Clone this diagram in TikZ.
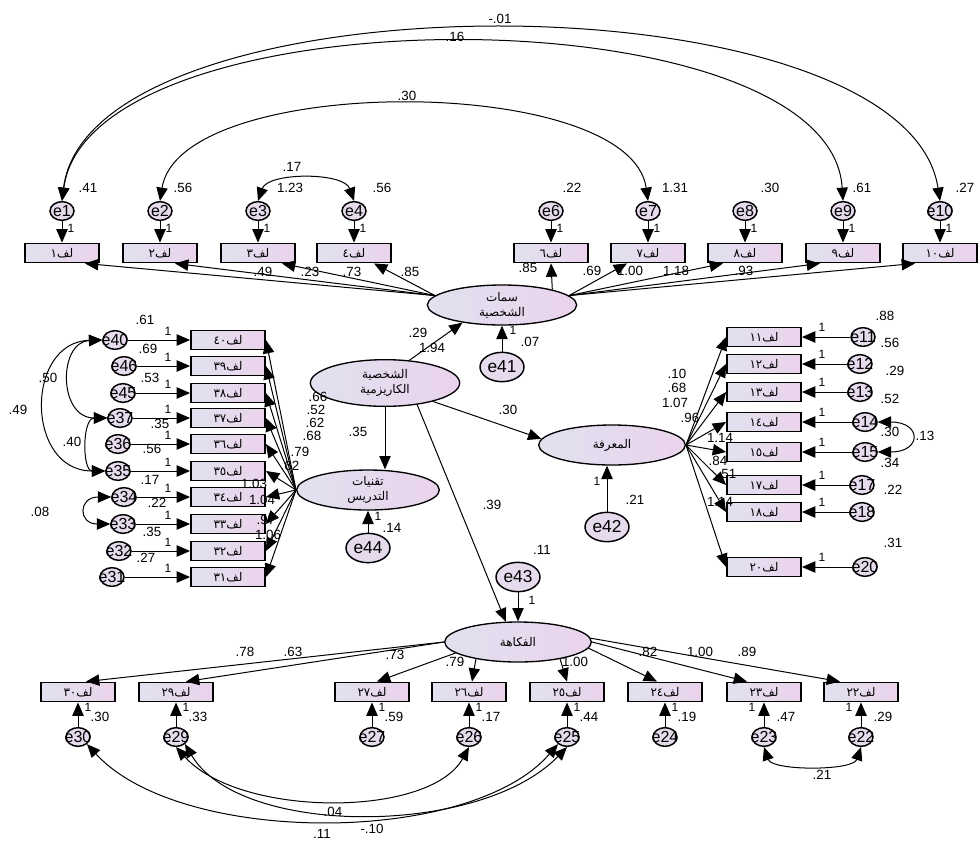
\documentclass[tikz,border=0pt]{standalone}
\usepackage{fontspec}
\setmainfont{Liberation Sans}
\newfontfamily\arabicfont[Script=Arabic]{DejaVu Sans}
\TeXXeTstate=1
\usetikzlibrary{arrows.meta,shapes.geometric,calc}
\definecolor{fillL}{HTML}{E1E1EF}
\definecolor{fillR}{HTML}{EAD3EC}
\newcommand\lfbox[1]{\beginR لف\beginL #1\endL\endR}
\newcommand\arl[1]{\beginR #1\endR}
\tikzset{
 tip/.tip={Triangle[length=10pt,width=8.5pt]},
 arr/.style={-tip, line width=0.75pt},
 darr/.style={tip-tip, line width=0.75pt},
 ind/.style={rectangle, draw, line width=1.4pt, left color=fillL, right color=fillR, minimum width=55.5pt, minimum height=14.25pt, inner sep=0pt, font=\arabicfont\fontsize{9}{9}\selectfont},
 lat/.style={ellipse, draw, line width=1pt, left color=fillL, right color=fillR, minimum width=112pt, minimum height=30pt, inner sep=0pt, align=center, font=\arabicfont\fontsize{9}{11}\selectfont},
 err/.style={ellipse, draw, line width=1.1pt, fill=fillR!50!fillL, minimum width=18pt, minimum height=14pt, inner sep=0pt, font=\fontsize{12}{12}\selectfont},
 errb/.style={ellipse, draw, line width=1.1pt, fill=fillR!50!fillL, minimum width=33pt, minimum height=22pt, inner sep=0pt, font=\fontsize{13}{13}\selectfont},
 num/.style={font=\fontsize{10}{10}\selectfont, inner sep=0pt},
 one/.style={font=\fontsize{9}{9}\selectfont, inner sep=0pt},
}
\begin{document}
\begin{tikzpicture}[x=0.75pt,y=-0.75pt]
\useasboundingbox (0,0) rectangle (978,843);
\fill[white] (0,0) rectangle (978,843);

% ---------- latent variables ----------
\node[lat] (sp) at (502,305) {\arl{سمات}\\\arl{الشخصية}};
\node[lat, minimum height=35pt] (char) at (385,383) {\arl{الشخصية}\\\arl{الكاريزمية}};
\node[lat, minimum width=107pt] (tech) at (368,490) {\arl{تقنيات}\\\arl{التدريس}};
\node[lat, minimum width=110pt] (know) at (612,445) {\arl{المعرفة}};
\node[lat, minimum width=110pt] (humor) at (518,642) {\arl{الفكاهة}};

\node[errb] (e41) at (502,367) {e41};
\node[errb] (e42) at (607,527) {e42};
\node[errb] (e43) at (518,577) {e43};
\node[errb] (e44) at (368,548) {e44};

% ---------- top row ----------
\foreach \n/\x/\t in {1/62/١,2/160/٢,3/258/٣,4/354/٤,6/551/٦,7/648/٧,8/745/٨,9/843/٩,10/940/١٠}{
  \node[ind] (b\n) at (\x,253) {\lfbox{\t}};
  \node[err] (e\n) at (\x,211) {\makebox[0pt]{e\n}};
  \draw[arr] (e\n.south) -- (b\n.north);
  \node[one] (o\n) at ($(e\n)+(9,17)$) {1};
}
\foreach \x/\t [count=\i] in {88/.41,183/.56,290/1.23,382/.56,572/.22,675/1.31,770/.30,862/.61,965/.27}
  \node[num] (tv\i) at (\x,188) {\t};

% top covariances
\draw[darr] (e1.north) .. controls (90,-28) and (905,-28) .. (e10.north);
\draw[darr] (e1.north) .. controls (90,-10) and (830,-10) .. (e9.north);
\draw[darr] (e2.north) .. controls (180,73) and (630,73) .. (e7.north);
\draw[darr] (e3.north) .. controls (268,172) and (344,172) .. (e4.north);
\node[num] (c1) at (500,19) {-.01};
\node[num] (c2) at (455,37) {.16};
\node[num] (c3) at (407,96) {.30};
\node[num] (c4) at (292,167) {.17};

% loadings of sp
\draw[arr] (sp.172) -- ($(b1.south)+(23,0)$);
\draw[arr] (sp.172) -- ($(b2.south)+(15,0)$);
\draw[arr] (sp.172) -- ($(b3.south)+(24,0)$);
\draw[arr] (sp.172) -- ($(b4.south)+(20,0)$);
\draw[arr] (sp.17) -- (b6.south);
\draw[arr] (sp.8) -- ($(b7.south)+(-21,0)$);
\draw[arr] (sp.8) -- ($(b8.south)+(-22,0)$);
\draw[arr] (sp.8) -- ($(b9.south)+(-23,0)$);
\draw[arr] (sp.8) -- ($(b10.south)+(-25,0)$);
\foreach \x/\y/\t [count=\i] in {263/272/.49,310/272/.23,352/272/.73,410/272/.85,528/268/.85,592/271/.69,630/271/1.00,676/271/1.18,744/271/.93}
  \node[num] (tl\i) at (\x,\y) {\t};

% ---------- structural paths ----------
\draw[arr] (char.43) -- (sp.204);
\draw[arr] (e41.north) -- (sp.south);
\draw[arr] (char.south) -- (char.south |- tech.north);
\draw[arr] (char.-21) -- (know.175);
\draw[arr] (char.-34) -- (humor.121);
\draw[arr] (e42.north) -- (e42.north |- know.south);
\draw[arr] (e43.south) -- (humor.north);
\draw[arr] (e44.north) -- (tech.south);
\foreach \x/\y/\t [count=\i] in {418/333/.29,432/348/1.94,358/432/.35,508/410/.30,492/505/.39,635/500/.21,392/528/.14,530/342/.07,542/550/.11}
  \node[num] (ts\i) at (\x,\y) {\t};
\foreach \x/\y [count=\i] in {513/330,597/481,378/516,532/600}
  \node[one] (so\i) at (\x,\y) {1};

% ---------- left cluster ----------
\foreach \n/\y/\ex/\en/\t in {40/340/115/40/٤٠,39/366/124/46/٣٩,38/393/123/45/٣٨,37/418/120/37/٣٧,36/444/118/36/٣٦,35/471/118/35/٣٥,34/497/124/34/٣٤,33/524/123/33/٣٣,32/551/119/32/٣٢,31/577/112/31/٣١}{
  \node[ind] (L\n) at (228,\y) {\lfbox{\t}};
  \node[err] (eL\n) at (\ex,\y) {\makebox[0pt]{e\en}};
  \draw[arr] (eL\n.east) -- (L\n.west);
  \node[one] (oL\n) at ($(L\n.west)+(-22,-9)$) {1};
  \draw[arr] (tech.west) -- (L\n.east);
}
\draw[darr] (eL40.west) .. controls (58,342) and (58,418) .. (eL37.west);
\draw[darr] (eL40.west) .. controls (25,342) and (25,471) .. (eL35.west);
\draw[darr] (eL37.west) .. controls (82,418) and (82,471) .. (eL35.west);
\draw[darr] (eL34.west) .. controls (78,497) and (78,524) .. (eL33.west);
\foreach \x/\y/\t [count=\i] in {48/378/.50,18/410/.49,72/442/.40,40/512/.08,
  145/320/.61,148/349/.69,150/378/.53,160/424/.35,152/449/.56,150/480/.17,157/503/.22,152/532/.35,146/558/.27,
  318/397/.66,316/410/.52,315/423/.62,312/436/.68,300/452/.79,290/466/.62,254/484/1.03,262/500/1.04,266/520/.97,268/535/1.06}
  \node[num] (tL\i) at (\x,\y) {\t};

% ---------- right cluster ----------
\foreach \n/\y/\ex/\t in {11/337/863/١١,12/364/860/١٢,13/392/860/١٣,14/422/865/١٤,15/452/865/١٥,17/485/862/١٧,18/512/862/١٨,20/567/865/٢٠}{
  \node[ind] (R\n) at (764,\y) {\lfbox{\t}};
  \node[err] (eR\n) at (\ex,\y) {\makebox[0pt]{e\n}};
  \draw[arr] (eR\n.west) -- (R\n.east);
  \node[one] (oR\n) at ($(R\n.east)+(20,-10)$) {1};
  \draw[arr] (know.east) -- (R\n.west);
}
\draw[darr] (eR14.east) .. controls (922,422) and (922,452) .. (eR15.east);
\foreach \x/\y/\t [count=\i] in {885/316/.88,890/343/.56,895/371/.29,890/399/.52,890/432/.30,890/463/.34,893/490/.22,893/543/.31,925/436/.13,
  677/374/.10,677/388/.68,675/403/1.07,690/418/.96,720/438/1.14,718/461/.84,727/474/.51,720/502/1.14}
  \node[num] (tR\i) at (\x,\y) {\t};

% ---------- bottom row ----------
\foreach \n/\x/\t in {30/78/٣٠,29/176/٢٩,27/372/٢٧,26/469/٢٦,25/567/٢٥,24/665/٢٤,23/764/٢٣,22/861/٢٢}{
  \node[ind] (B\n) at (\x,692) {\lfbox{\t}};
  \node[err] (eB\n) at (\x,737) {\makebox[0pt]{e\n}};
  \draw[arr] (eB\n.north) -- (B\n.south);
}
\foreach \n/\dx/\vx/\t in {30/10/22/.30,29/10/22/.33,27/10/22/.59,26/10/22/.17,25/10/22/.44,24/10/22/.19,23/-12/22/.47,22/-12/22/.29}{
  \node[one] (oB\n) at ($(B\n.south)+(\dx,5)$) {1};
  \node[num] (vB\n) at ($(B\n.south)+(\vx,14)$) {\t};
}
\draw[arr] (humor.west) -- ($(B30.north)+(8,0)$);
\draw[arr] (humor.west) -- ($(B29.north)+(10,0)$);
\draw[arr] (humor.190) -- ($(B27.north)+(5,0)$);
\draw[arr] (humor.202) -- ($(B26.north)+(3,0)$);
\draw[arr] (humor.-22) -- (B25.north);
\draw[arr] (humor.-5) -- ($(B24.north)+(-8,0)$);
\draw[arr] (humor.0) -- ($(B23.north)+(-17,0)$);
\draw[arr] (humor.3) -- ($(B22.north)+(-21,0)$);
\draw[darr] (eB23.south) .. controls (772,771) and (853,771) .. (eB22.south);
\draw[darr] (eB30.south east) .. controls (180,846) and (470,846) .. (eB25.south west);
\draw[darr] (eB29.south east) .. controls (240,837) and (480,837) .. (eB25.south);
\draw[darr] (eB29.south) .. controls (240,818) and (430,818) .. (eB26.south);
\foreach \x/\y/\t [count=\i] in {245/652/.78,293/652/.63,395/655/.73,455/662/.79,575/662/1.00,648/652/.82,700/652/1.00,747/652/.89,
  822/775/.21,333/812/.04,322/834/.11,372/829/-.10}
  \node[num] (tB\i) at (\x,\y) {\t};
\end{tikzpicture}
\end{document}
